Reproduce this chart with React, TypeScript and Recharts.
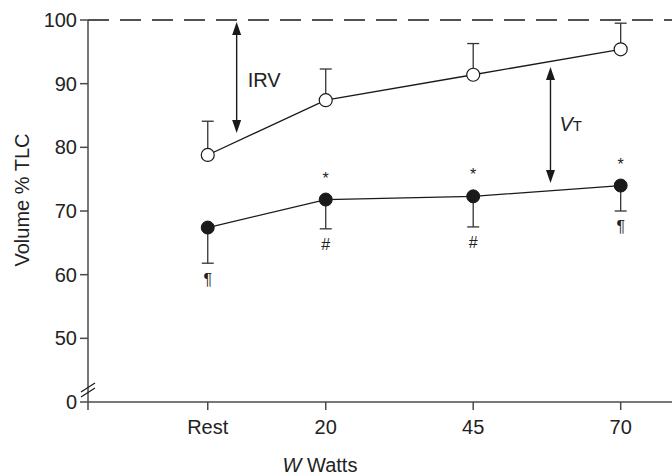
import React from "react";
import { LineChart, Line, XAxis, YAxis, ErrorBar, LabelList, ReferenceLine, ReferenceDot, Label } from "recharts";

const categories = ["Rest", "20", "45", "70"];
const watts = [0, 20, 45, 70];
const openMean = [78.8, 87.4, 91.4, 95.4];
const openSD = [5.3, 4.9, 4.9, 4.1];
const filledMean = [67.4, 71.8, 72.3, 74.0];
const filledSD = [5.6, 4.6, 4.8, 4.0];
const aboveMarks = ["", "*", "*", "*"];
const belowMarks = ["¶", "#", "#", "¶"];

const yTicks = [40, 50, 60, 70, 80, 90, 100];
const yTickLabels = ["0", "50", "60", "70", "80", "90", "100"];
const xMin = -20.3;
const xMax = 78.7;
const xTicks = [xMin, ...watts];

// arrows: [x, yBottom, yTop, label]
const irvArrow = { x: 4.9, y1: 82.25, y2: 99.7 };
const vtArrow = { x: 58.1, y1: 74.4, y2: 92.6 };
const breakY = 41.9;

const data = watts.map((w, i) => ({
  w,
  open: openMean[i],
  openErr: [0, openSD[i]],
  filled: filledMean[i],
  filledErr: [filledSD[i], 0],
  low: filledMean[i] - filledSD[i],
  above: aboveMarks[i],
  below: belowMarks[i],
}));

const INK = "#1a1a1a";
const AXIS = "#4a4a4a";
const FONT = "'Liberation Sans', Arial, Helvetica, sans-serif";

function arrowShape(kind: "IRV" | "VT") {
  return (p: any) => {
    const x = p.x1;
    const top = Math.min(p.y1, p.y2);
    const bot = Math.max(p.y1, p.y2);
    const hl = 13;
    const hw = 4.5;
    const mid = (top + bot) / 2;
    return (
      <g>
        <line x1={x} y1={top + hl - 1} x2={x} y2={bot - hl + 1} stroke={INK} strokeWidth={1.4} />
        <polygon points={`${x},${top} ${x - hw},${top + hl} ${x + hw},${top + hl}`} fill={INK} />
        <polygon points={`${x},${bot} ${x - hw},${bot - hl} ${x + hw},${bot - hl}`} fill={INK} />
        {kind === "IRV" ? (
          <text x={x + 11} y={mid + 10} fontSize={20} fill="#222" fontFamily={FONT}>IRV</text>
        ) : (
          <text x={x + 9} y={mid + 5.5} fontSize={20} fill="#222" fontFamily={FONT}>
            <tspan fontStyle="italic">V</tspan>
            <tspan fontSize={15}>T</tspan>
          </text>
        )}
      </g>
    );
  };
}

const breakShape = (p: any) => {
  const { cx, cy } = p;
  return (
    <g stroke={INK} strokeWidth={1.2}>
      <line x1={cx - 7} y1={cy + 2} x2={cx + 7} y2={cy - 7} />
      <line x1={cx - 7} y1={cy + 7} x2={cx + 7} y2={cy - 2} />
    </g>
  );
};

export default function App() {
  return (
    <div style={{ position: "absolute", left: 0, top: 0, width: 672, height: 475, background: "#fff" }}>
      <LineChart width={672} height={475} data={data} margin={{ top: 20, right: 0, bottom: 0, left: 0 }}>
        <XAxis
          type="number"
          dataKey="w"
          domain={[xMin, xMax]}
          allowDataOverflow
          ticks={xTicks}
          tickFormatter={(v: number) => {
            const i = watts.indexOf(v);
            return i >= 0 ? categories[i] : "";
          }}
          height={73}
          tickSize={8}
          tickMargin={10}
          stroke={AXIS}
          strokeWidth={1.5}
          tick={{ fill: "#222", fontSize: 20, fontFamily: FONT }}
        >
          <Label
            content={({ viewBox }: any) => (
              <text x={viewBox.x + 232} y={viewBox.y + 70} textAnchor="middle" fontSize={20} fill="#222" fontFamily={FONT}>
                <tspan fontStyle="italic">W</tspan> Watts
              </text>
            )}
          />
        </XAxis>
        <YAxis
          type="number"
          domain={[40, 100]}
          allowDataOverflow
          ticks={yTicks}
          tickFormatter={(v: number) => yTickLabels[yTicks.indexOf(v)]}
          width={88}
          tickSize={8}
          tickMargin={3}
          stroke={AXIS}
          strokeWidth={1.5}
          tick={{ fill: "#222", fontSize: 20, fontFamily: FONT }}
        >
          <Label
            content={({ viewBox }: any) => {
              const cx = viewBox.x + 22;
              const cy = viewBox.y + viewBox.height / 2 - 11;
              return (
                <text
                  x={cx}
                  y={cy}
                  transform={`rotate(-90 ${cx} ${cy})`}
                  textAnchor="middle"
                  dominantBaseline="central"
                  fontSize={20}
                  fill="#222"
                  fontFamily={FONT}
                >
                  Volume % TLC
                </text>
              );
            }}
          />
        </YAxis>
        <ReferenceLine y={100} stroke={INK} strokeWidth={1.3} strokeDasharray="21 11" />
        <ReferenceDot x={xMin} y={breakY} r={0} shape={breakShape} />
        <ReferenceLine
          segment={[{ x: irvArrow.x, y: irvArrow.y1 }, { x: irvArrow.x, y: irvArrow.y2 }]}
          shape={arrowShape("IRV")}
        />
        <ReferenceLine
          segment={[{ x: vtArrow.x, y: vtArrow.y1 }, { x: vtArrow.x, y: vtArrow.y2 }]}
          shape={arrowShape("VT")}
        />
        <Line
          dataKey="low"
          stroke="none"
          dot={false}
          activeDot={false}
          isAnimationActive={false}
        >
          <LabelList dataKey="below" position="bottom" offset={10} fontSize={16} fill="#222" fontFamily={FONT} />
        </Line>
        <Line
          dataKey="open"
          stroke={INK}
          strokeWidth={1.3}
          dot={{ r: 6.5, fill: "#fff", stroke: INK, strokeWidth: 1.2 }}
          activeDot={false}
          isAnimationActive={false}
        >
          <ErrorBar dataKey="openErr" direction="y" width={6} stroke="#333" strokeWidth={1.3} />
        </Line>
        <Line
          dataKey="filled"
          stroke={INK}
          strokeWidth={1.3}
          dot={{ r: 6.5, fill: INK, stroke: INK, strokeWidth: 1 }}
          activeDot={false}
          isAnimationActive={false}
        >
          <ErrorBar dataKey="filledErr" direction="y" width={6} stroke="#333" strokeWidth={1.3} />
          <LabelList dataKey="above" position="top" offset={16} fontSize={16} fill="#222" fontFamily={FONT} />
        </Line>
      </LineChart>
    </div>
  );
}
